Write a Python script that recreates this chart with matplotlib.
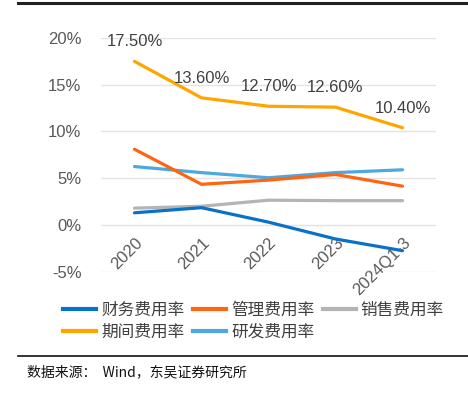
import matplotlib
matplotlib.use("Agg")
import matplotlib.pyplot as plt
from matplotlib.lines import Line2D

categories = ["2020", "2021", "2022", "2023", "2024Q1-3"]
caiwu = [1.3, 1.85, 0.3, -1.5, -2.75]
guanli = [8.1, 4.35, 4.8, 5.4, 4.15]
xiaoshou = [1.8, 2.0, 2.65, 2.6, 2.6]
qijian = [17.5, 13.6, 12.7, 12.6, 10.4]
yanfa = [6.25, 5.6, 5.05, 5.6, 5.9]
names = ["财务费用率", "管理费用率", "销售费用率", "期间费用率", "研发费用率"]
yticks = [-5, 0, 5, 10, 15, 20]

colors = ["#0A70C8", "#FF6410", "#B4B4B4", "#FFA500", "#4BA8E0"]
cjk = ["Noto Sans CJK SC", "DejaVu Sans"]
num = ["Liberation Sans", "DejaVu Sans"]

fig = plt.figure(figsize=(4.68, 3.93), dpi=100)
ax = fig.add_axes([101/468, 1-271.7/393, 335/468, (271.7-38)/393])

x = list(range(len(categories)))
series = [caiwu, guanli, xiaoshou, qijian, yanfa]
order = [2, 4, 1, 0, 3]
for i in order:
    ax.plot(x, series[i], color=colors[i], lw=2.3, solid_capstyle="round", zorder=3)

for xi, v in zip(x, qijian):
    ax.annotate(f"{v:.2f}%", (xi, v), xytext=(0, 14), textcoords="offset points",
                ha="center", va="center", fontsize=12, color="#404040", family=num)

ax.set_xlim(-0.5, len(categories) - 0.5)
ax.set_ylim(-5, 20)
ax.set_yticks(yticks)
ax.set_yticklabels([f"{t}%" for t in yticks], family=num, fontsize=12, color="#595959")
ax.grid(axis="y", color="#E3E3E3", lw=1)
ax.set_axisbelow(True)
for s in ax.spines.values():
    s.set_visible(False)
ax.spines["bottom"].set_position(("data", 0))
ax.tick_params(axis="y", length=0, pad=14)
ax.tick_params(axis="x", length=0, pad=7)
ax.set_xticks(x)
ax.set_xticklabels(categories, rotation=45, ha="right", rotation_mode="anchor",
                   family=num, fontsize=12, color="#595959")

handles = [Line2D([0], [0], color=c, lw=3) for c in colors]
leg_order = [0, 3, 1, 4, 2]
leg = fig.legend([handles[i] for i in leg_order], [names[i] for i in leg_order],
                 loc="upper left", bbox_to_anchor=(63/468, 1-302/393),
                 ncol=3, frameon=False, prop={"family": cjk, "size": 12},
                 handlelength=2.0, handletextpad=0.3, columnspacing=0.5,
                 labelspacing=0.28, borderaxespad=0, borderpad=0)
for t in leg.get_texts():
    t.set_color("#404040")

fig.add_artist(Line2D([18/468, 1], [1-3/393, 1-3/393], color="#222222", lw=2.2))
fig.add_artist(Line2D([18/468, 1], [1-356/393, 1-356/393], color="#111111", lw=1.2))
fig.text(27/468, 1-372/393, "数据来源：  Wind，东吴证券研究所", family=cjk, fontsize=10,
         color="#111111", va="center", ha="left")

fig.savefig("out.png", dpi=100)
